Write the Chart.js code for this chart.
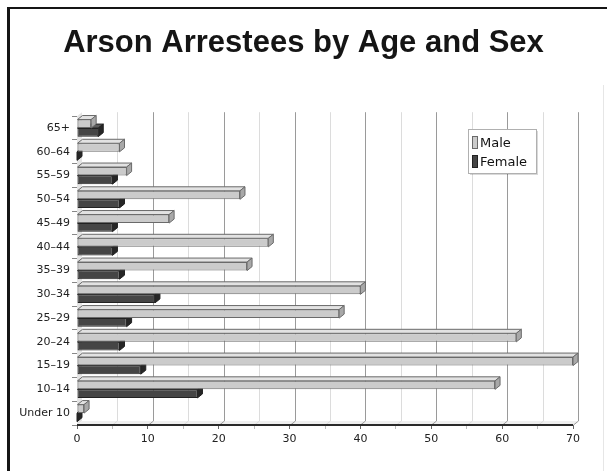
<!DOCTYPE html>
<html>
<head>
<meta charset="utf-8">
<title>Arson Arrestees by Age and Sex</title>
<script src="https://cdn.jsdelivr.net/npm/chart.js@4/dist/chart.umd.min.js"></script>
<style>
  body { margin: 0; background: #fff; }
  canvas { display: block; }
</style>
</head>
<body>
<canvas id="myChart" width="607" height="471"></canvas>
<script>
// データ
var ageGroups = ['65+', '60–64', '55–59', '50–54', '45–49', '40–44', '35–39',
                 '30–34', '25–29', '20–24', '15–19', '10–14', 'Under 10'];
var maleCounts   = [2, 6, 7, 23, 13, 27, 24, 40, 37, 62, 70, 59, 1];
var femaleCounts = [3, 0, 5, 6, 5, 5, 6, 11, 7, 6, 9, 17, 0];
var xTickLabels  = [0, 10, 20, 30, 40, 50, 60, 70];

// 3Dっぽい奥行き
var DX = 5, DY = -4;
var labelFont = { family: 'DejaVu Sans', size: 11 };

// 枠線
var framePlugin = {
    id: 'frame',
    beforeDraw: function(chart) {
        var ctx = chart.ctx;
        ctx.save();
        ctx.fillStyle = '#fff';
        ctx.fillRect(0, 0, chart.width, chart.height);
        ctx.fillStyle = '#151515';
        ctx.fillRect(7, 7, chart.width - 7, 2);
        ctx.fillRect(7, 7, 3, chart.height - 7);
        ctx.fillStyle = '#e6e6e6';
        ctx.fillRect(603, 85, 1, chart.height - 85);
        ctx.restore();
    }
};

// 奥の壁・床・グリッド線
var wallPlugin = {
    id: 'wall',
    beforeDatasetsDraw: function(chart) {
        var ctx = chart.ctx;
        var a = chart.chartArea;
        var xs = chart.scales.x;
        ctx.save();
        // 左の壁
        ctx.fillStyle = '#e4e4e4';
        ctx.beginPath();
        ctx.moveTo(a.left, a.bottom);
        ctx.lineTo(a.left + DX, a.bottom + DY);
        ctx.lineTo(a.left + DX, a.top + DY);
        ctx.lineTo(a.left, a.top);
        ctx.closePath();
        ctx.fill();
        // 床
        ctx.fillStyle = '#efefef';
        ctx.beginPath();
        ctx.moveTo(a.left, a.bottom);
        ctx.lineTo(a.left + DX, a.bottom + DY);
        ctx.lineTo(a.right + DX, a.bottom + DY);
        ctx.lineTo(a.right, a.bottom);
        ctx.closePath();
        ctx.fill();
        // グリッド
        ctx.lineWidth = 1;
        for (var v = 5; v <= 70; v += 5) {
            var x = Math.round(xs.getPixelForValue(v)) + 0.5;
            ctx.strokeStyle = (v % 10 === 0) ? '#9a9a9a' : '#dcdcdc';
            ctx.beginPath();
            ctx.moveTo(x + DX, a.top + DY);
            ctx.lineTo(x + DX, a.bottom + DY);
            ctx.lineTo(x, a.bottom);
            ctx.stroke();
        }
        // 床の手前の線
        ctx.strokeStyle = '#2a2a2a';
        ctx.lineWidth = 2;
        ctx.beginPath();
        ctx.moveTo(a.left, a.bottom);
        ctx.lineTo(a.right, a.bottom);
        ctx.stroke();
        ctx.restore();
    }
};

// バーの上面と側面
var barCapPlugin = {
    id: 'barCap',
    afterDatasetDraw: function(chart, args) {
        var ctx = chart.ctx;
        var ds = chart.data.datasets[args.index];
        ctx.save();
        ctx.lineWidth = 1;
        ctx.strokeStyle = ds.borderColor;
        args.meta.data.forEach(function(bar) {
            var p = bar.getProps(['x', 'y', 'base', 'height'], true);
            var left = Math.min(p.base, p.x), right = Math.max(p.base, p.x);
            var top = p.y - p.height / 2, bottom = p.y + p.height / 2;
            ctx.fillStyle = ds.topColor;
            ctx.beginPath();
            ctx.moveTo(left, top);
            ctx.lineTo(left + DX, top + DY);
            ctx.lineTo(right + DX, top + DY);
            ctx.lineTo(right, top);
            ctx.closePath();
            ctx.fill();
            ctx.stroke();
            ctx.fillStyle = ds.sideColor;
            ctx.beginPath();
            ctx.moveTo(right, top);
            ctx.lineTo(right + DX, top + DY);
            ctx.lineTo(right + DX, bottom + DY);
            ctx.lineTo(right, bottom);
            ctx.closePath();
            ctx.fill();
            ctx.stroke();
        });
        ctx.restore();
    }
};

// 凡例
var legendBoxPlugin = {
    id: 'legendBox',
    afterDraw: function(chart) {
        var ctx = chart.ctx;
        var bx = 468, by = 129, bw = 68, bh = 44;
        ctx.save();
        ctx.fillStyle = 'rgba(0,0,0,0.15)';
        ctx.fillRect(bx + 2, by + 2, bw, bh);
        ctx.fillStyle = '#fff';
        ctx.fillRect(bx, by, bw, bh);
        ctx.strokeStyle = '#b0b0b0';
        ctx.lineWidth = 1;
        ctx.strokeRect(bx + 0.5, by + 0.5, bw, bh);
        ctx.font = '13px "DejaVu Sans"';
        ctx.textBaseline = 'middle';
        chart.data.datasets.forEach(function(ds, i) {
            var cy = by + 14 + i * 19;
            ctx.fillStyle = ds.backgroundColor;
            ctx.fillRect(bx + 4.5, cy - 6.5, 5, 12);
            ctx.strokeStyle = ds.borderColor;
            ctx.strokeRect(bx + 4.5, cy - 6.5, 5, 12);
            ctx.fillStyle = '#111';
            ctx.fillText(ds.label, bx + 12, cy + 1);
        });
        ctx.restore();
    }
};

var ctx = document.getElementById('myChart');

var myChart = new Chart(ctx, {
    type: 'bar',
    data: {
        labels: ageGroups,
        datasets: [{
            label: 'Male',
            data: maleCounts,
            backgroundColor: '#cbcbcb',
            borderColor: '#6a6a6a',
            topColor: '#e2e2e2',
            sideColor: '#a8a8a8',
            borderWidth: 1,
            borderSkipped: false
        }, {
            label: 'Female',
            data: femaleCounts,
            backgroundColor: '#454545',
            borderColor: '#222222',
            topColor: '#5c5c5c',
            sideColor: '#262626',
            borderWidth: 1,
            borderSkipped: false
        }]
    },
    options: {
        indexAxis: 'y',
        responsive: false,
        animation: false,
        barPercentage: 1.0,
        categoryPercentage: 0.72,
        layout: { padding: 0 },
        plugins: {
            legend: { display: false },
            tooltip: { enabled: false },
            title: {
                display: true,
                text: 'Arson Arrestees by Age and Sex',
                color: '#151515',
                font: { family: 'Liberation Sans', size: 31, weight: 'bold', lineHeight: 1.2 },
                padding: { top: 25, bottom: 54 }
            }
        },
        scales: {
            x: {
                min: 0,
                max: 70,
                ticks: {
                    stepSize: 5,
                    autoSkip: false,
                    maxRotation: 0,
                    padding: 4,
                    color: '#222',
                    font: labelFont,
                    callback: function(value) {
                        return xTickLabels.indexOf(value) >= 0 ? value : '';
                    }
                },
                grid: {
                    drawOnChartArea: false,
                    drawTicks: true,
                    tickLength: 4,
                    tickColor: function(c) {
                        return (c.tick && c.tick.value % 10 === 0) ? '#666' : '#bbb';
                    }
                },
                border: { display: false },
                afterFit: function(scale) { scale.height = 46; }
            },
            y: {
                ticks: {
                    padding: 2,
                    color: '#222',
                    font: labelFont
                },
                grid: {
                    drawOnChartArea: false,
                    drawTicks: true,
                    tickLength: 5,
                    tickColor: '#888'
                },
                border: { display: false },
                afterFit: function(scale) { scale.width = 77; }
            },
            yRight: {
                position: 'right',
                display: true,
                ticks: { display: false },
                grid: { display: false },
                border: { display: false },
                afterFit: function(scale) { scale.width = 34; }
            }
        }
    },
    plugins: [framePlugin, wallPlugin, barCapPlugin, legendBoxPlugin]
});
</script>
</body>
</html>
